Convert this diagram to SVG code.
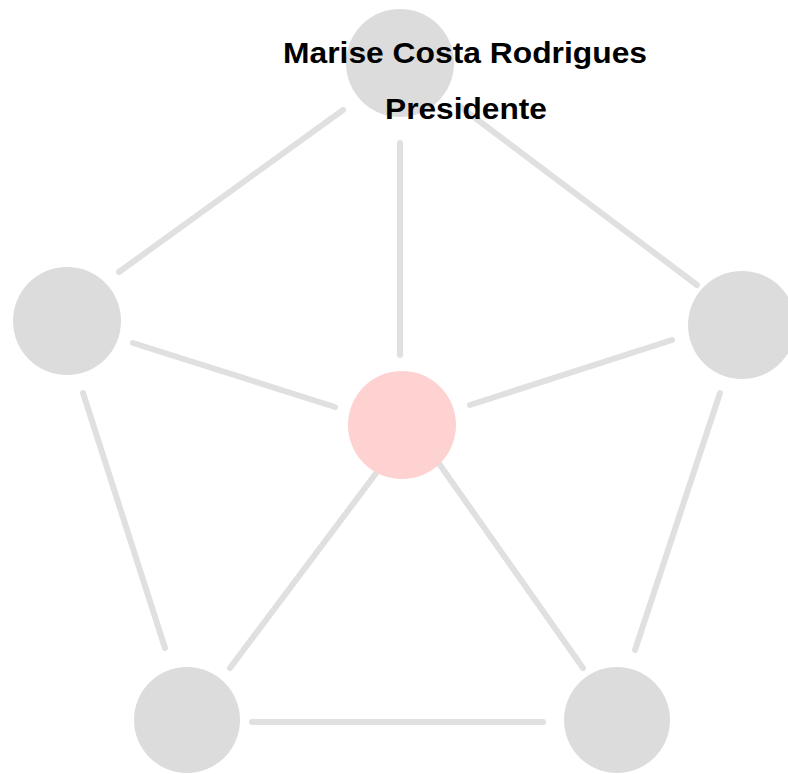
<svg xmlns="http://www.w3.org/2000/svg" width="788" height="774" viewBox="0 0 788 774">
<style>
.edge{stroke:#e0e0e0;stroke-width:6;stroke-linecap:round;fill:none}
.node{fill:#dcdcdc}
.center{fill:#ffd2d2}
.lbl{font-family:"Liberation Sans",Arial,sans-serif;font-weight:bold;font-size:30px;fill:#000;text-anchor:middle}
</style>
<rect width="788" height="774" fill="#fff"/>
<g id="connectors">
<line class="edge" x1="343" y1="110" x2="119" y2="272"/>
<line class="edge" x1="458" y1="105" x2="697" y2="285"/>
<line class="edge" x1="400" y1="143" x2="400" y2="355"/>
<line class="edge" x1="133" y1="343" x2="335" y2="407"/>
<line class="edge" x1="470" y1="405" x2="672" y2="340"/>
<line class="edge" x1="83" y1="393" x2="165" y2="648"/>
<line class="edge" x1="720" y1="393" x2="635" y2="650"/>
<line class="edge" x1="380" y1="468" x2="230" y2="668"/>
<line class="edge" x1="440" y1="465" x2="583" y2="668"/>
<line class="edge" x1="252" y1="722" x2="543" y2="722"/>
</g>
<g id="node-top"><circle class="node" cx="400" cy="63" r="54"/></g>
<g id="node-left"><circle class="node" cx="67" cy="321" r="54"/></g>
<g id="node-right"><circle class="node" cx="742" cy="325" r="54"/></g>
<g id="node-center"><circle class="center" cx="402" cy="425" r="54"/></g>
<g id="node-bottom-left"><circle class="node" cx="187" cy="720" r="53"/></g>
<g id="node-bottom-right"><circle class="node" cx="617" cy="720" r="53"/></g>
<g id="label">
<text class="lbl" x="465" y="63" textLength="364" lengthAdjust="spacingAndGlyphs">Marise Costa Rodrigues</text>
<text class="lbl" x="466" y="119" textLength="162" lengthAdjust="spacingAndGlyphs">Presidente</text>
</g>
</svg>
